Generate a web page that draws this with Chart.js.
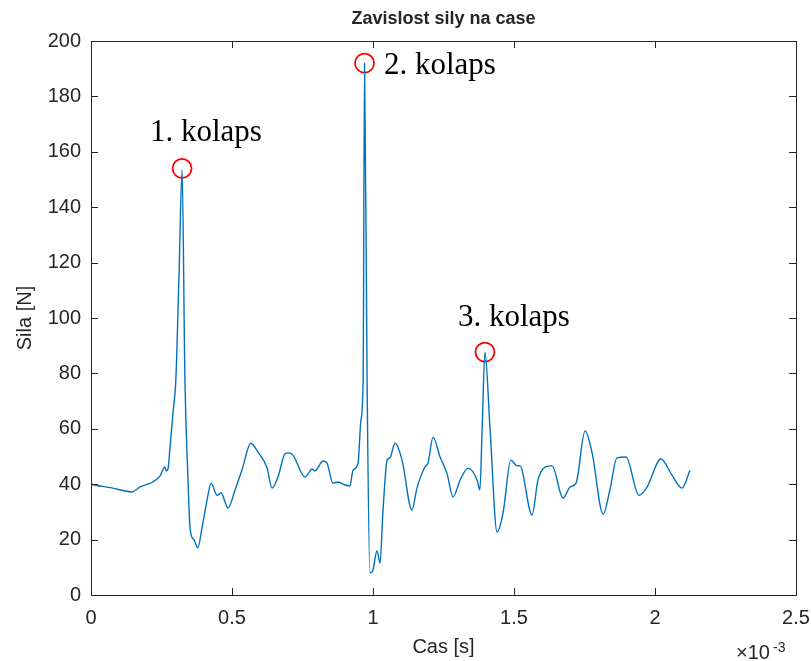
<!DOCTYPE html>
<html lang="cs">
<head>
<meta charset="UTF-8">
<title>Zavislost sily na case</title>
<script src="https://cdn.jsdelivr.net/npm/chart.js"></script>
<style>
  html, body { margin: 0; padding: 0; background: #fff; }
  canvas { display: block; }
</style>
</head>
<body>
<canvas id="forceChart" width="811" height="661"></canvas>
<script>
// time in units of 1e-3 s
const times = [0, 0.040, 0.078, 0.110, 0.145, 0.160, 0.174, 0.200, 0.220, 0.245, 0.262, 0.267, 0.273, 0.280, 0.291, 0.301, 0.312, 0.323,
  0.333, 0.344, 0.350, 0.355, 0.365, 0.379, 0.394, 0.411, 0.426, 0.447, 0.461, 0.486, 0.511, 0.535, 0.567,
  0.592, 0.624, 0.642, 0.663, 0.688, 0.699, 0.716, 0.759, 0.784, 0.794, 0.823, 0.837, 0.858, 0.876,
  0.901, 0.918, 0.929, 0.947, 0.957, 0.965, 0.970, 0.979, 0.989, 1.000, 1.014, 1.025, 1.035, 1.050,
  1.060, 1.078, 1.103, 1.138, 1.156, 1.184, 1.195, 1.213, 1.238, 1.262, 1.284, 1.309, 1.337, 1.369,
  1.379, 1.387, 1.397, 1.415, 1.440, 1.461, 1.489, 1.511, 1.521, 1.564, 1.585, 1.610, 1.635, 1.674,
  1.699, 1.720, 1.752, 1.777, 1.816, 1.840, 1.865, 1.897, 1.943, 1.972, 2.021, 2.060, 2.096, 2.124];
// force [N]
const force = [40, 39.2, 38.6, 37.8, 37.2, 38, 39, 40, 40.8, 43, 46.2, 44.8, 45.5, 53, 66, 78, 115, 153.5,
  78, 41.5, 26, 21.7, 20, 17, 24.5, 34, 40.4, 36, 36.8, 31.4, 38, 45, 54.8,
  51.6, 46, 38.6, 42.6, 51, 51.3, 50.5, 42.6, 45.5, 44.8, 48.4, 47.6, 40.4, 40.8,
  39.7, 39.4, 45, 47.6, 63, 77.6, 192, 77.6, 8, 9, 16, 11.5, 29.6, 48.7,
  49.5, 54.8, 48.7, 30.7, 38.6, 46.2, 47.6, 57, 49.8, 44, 35.4, 41.5, 45.8, 41.5,
  37.9, 60, 87.7, 60, 22.7, 29.6, 48.7, 46.6, 46.6, 28.9, 41.5, 46.2, 46.6, 35,
  39, 40.4, 59.2, 51.3, 29.2, 37.9, 49.5, 49.8, 36, 39, 49.1, 43.3, 38.6, 45];

// collapse markers and labels
const peakTimes = [0.323, 0.970, 1.397];
const peakForces = [154, 192, 87.7];
const labelTexts = ['1. kolaps', '2. kolaps', '3. kolaps'];
const labelTimes = [0.209, 1.039, 1.301];
const labelForces = [166.8, 191, 100];

const xTicks = [0, 0.5, 1, 1.5, 2, 2.5];
const yTicks = [0, 20, 40, 60, 80, 100, 120, 140, 160, 180, 200];

const textColor = '#262626';
const sans = '"Liberation Sans", Arial, sans-serif';

const matlabFrame = {
  id: 'matlabFrame',
  afterDraw(chart) {
    const { ctx, chartArea: a, scales: { x, y } } = chart;
    ctx.save();
    ctx.strokeStyle = textColor;
    ctx.lineWidth = 1;
    ctx.strokeRect(a.left + 0.5, a.top + 0.5, a.right - a.left, a.bottom - a.top);
    const tl = 7;
    ctx.beginPath();
    xTicks.forEach(v => {
      const px = Math.round(x.getPixelForValue(v)) + 0.5;
      ctx.moveTo(px, a.bottom); ctx.lineTo(px, a.bottom - tl);
      ctx.moveTo(px, a.top); ctx.lineTo(px, a.top + tl);
    });
    yTicks.forEach(v => {
      const py = Math.round(y.getPixelForValue(v)) + 0.5;
      ctx.moveTo(a.left, py); ctx.lineTo(a.left + tl, py);
      ctx.moveTo(a.right, py); ctx.lineTo(a.right - tl, py);
    });
    ctx.stroke();

    // annotation labels
    ctx.fillStyle = '#000';
    ctx.font = '31px "Liberation Serif", "Times New Roman", serif';
    ctx.textAlign = 'left';
    ctx.textBaseline = 'middle';
    labelTexts.forEach((t, i) => {
      ctx.fillText(t, x.getPixelForValue(labelTimes[i]), y.getPixelForValue(labelForces[i]));
    });

    // titles
    ctx.fillStyle = textColor;
    ctx.textAlign = 'center';
    ctx.font = 'bold 18px ' + sans;
    ctx.fillText('Zavislost sily na case', (a.left + a.right) / 2, 19);
    ctx.font = '20px ' + sans;
    ctx.fillText('Cas [s]', (a.left + a.right) / 2, 647);
    ctx.save();
    ctx.translate(25, (a.top + a.bottom) / 2);
    ctx.rotate(-Math.PI / 2);
    ctx.fillText('Sila [N]', 0, 0);
    ctx.restore();

    // exponent label
    ctx.textAlign = 'left';
    ctx.textBaseline = 'alphabetic';
    ctx.font = '20px ' + sans;
    ctx.fillText('\u00d710', 736, 659);
    ctx.font = '14px ' + sans;
    ctx.fillText('-3', 773, 652);
    ctx.restore();
  }
};

const ctx = document.getElementById('forceChart').getContext('2d');
new Chart(ctx, {
  type: 'scatter',
  data: {
    datasets: [{
      data: times.map((t, i) => ({ x: t, y: force[i] })),
      showLine: true,
      borderColor: '#0072BD',
      borderWidth: 1.4,
      pointRadius: 0,
      cubicInterpolationMode: 'monotone'
    }, {
      data: peakTimes.map((t, i) => ({ x: t, y: peakForces[i] })),
      showLine: false,
      pointStyle: 'circle',
      pointRadius: 9.5,
      pointBorderColor: '#ff0000',
      pointBackgroundColor: 'rgba(0,0,0,0)',
      pointBorderWidth: 1.8
    }]
  },
  options: {
    responsive: false,
    animation: false,
    layout: { padding: { top: 41, right: 15, left: 0, bottom: 0 } },
    plugins: {
      legend: { display: false },
      tooltip: { enabled: false }
    },
    scales: {
      x: {
        type: 'linear',
        min: 0, max: 2.5,
        afterBuildTicks: s => { s.ticks = xTicks.map(v => ({ value: v })); },
        afterFit: s => { s.height = 66; s.paddingLeft = 0; s.paddingRight = 0; },
        grid: { display: false },
        border: { display: false },
        ticks: {
          color: textColor,
          font: { family: sans, size: 20 },
          padding: 3,
          maxRotation: 0,
          callback: v => String(v)
        }
      },
      y: {
        min: 0, max: 200,
        afterBuildTicks: s => { s.ticks = yTicks.map(v => ({ value: v })); },
        afterFit: s => { s.width = 91; s.paddingTop = 0; s.paddingBottom = 0; },
        grid: { display: false },
        border: { display: false },
        ticks: {
          color: textColor,
          font: { family: sans, size: 20 },
          padding: 2
        }
      }
    }
  },
  plugins: [matlabFrame]
});
</script>
</body>
</html>
